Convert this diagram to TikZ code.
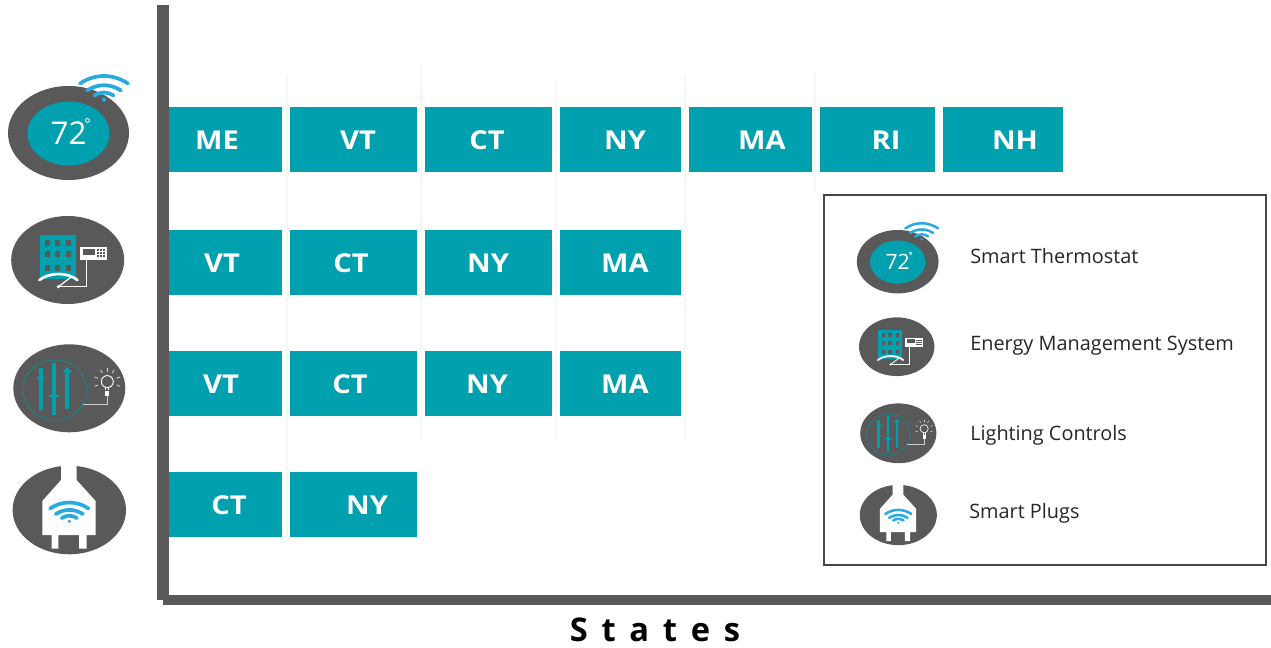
\documentclass[tikz,border=0pt]{standalone}
\usepackage{fontspec}
\setmainfont{Open Sans}
\newfontfamily\spacedbold[LetterSpace=42]{Open Sans}
\newfontfamily\labfont[FakeStretch=1.12]{Open Sans}
\definecolor{tealbar}{HTML}{00A0AF}
\definecolor{axisgray}{HTML}{595959}
\definecolor{wifiblue}{HTML}{29ABE2}
\definecolor{darkteal}{HTML}{1F7F8A}
\newcommand{\wifiicon}[1]{%
  \fill[wifiblue] (0,0) circle (2.1);
  \draw[wifiblue,line cap=round,line width=#1*2.8pt,fill=none]
    (-24,16) .. controls (-9,26) and (9,26) .. (24,16)
    (-17,9) .. controls (-6,16) and (6,16) .. (17,9)
    (-9.5,4) .. controls (-3,8) and (3,8) .. (9.5,4);
}
\tikzset{
  bar/.style={fill=tealbar},
  lab/.style={text=white,font=\fontsize{19.5}{22}\labfont\bfseries},
  legtext/.style={anchor=base west,inner sep=0pt,text=black!85,font=\fontsize{14.9}{17}\selectfont},
  grid/.style={draw=black!3,line width=0.8pt},
  pics/thermo/.style={code={
    \begin{scope}[x=.75pt,y=.75pt,scale=#1]
      \fill[axisgray] (0,0) ellipse (60.5 and 47);
      \fill[tealbar] (0,-.5) ellipse (41 and 32);
      \node[transform shape,text=white,font=\fontsize{23.5}{26}\selectfont] (t) at (0,-.5) {72};
      \draw[white,line width=#1*.6pt] (19,12.5) circle (2);
      \begin{scope}[shift={(35.5,33.5)}]\wifiicon{#1}\end{scope}
    \end{scope}}},
  pics/building/.style={code={
    \begin{scope}[x=.75pt,y=.75pt,scale=#1]
      \fill[axisgray] (0,0) ellipse (56.5 and 44);
      \fill[tealbar] (-27.7,25) rectangle (8.3,-19);
      \foreach \wx in {-22.7,-12.7,-1.7}
        \foreach \wy in {14,2.7,-10.7}
          \fill[axisgray] (\wx,\wy) rectangle +(5,6);
      \draw[white,line width=#1*2pt,line cap=round] (-28.3,-20) .. controls (-18,-12) and (0,-12) .. (9.7,-20);
      \draw[white,line width=#1*.9pt] (-9.3,-26.7) -- (4,-16.7);
      \draw[white,line width=#1*.7pt] (-9.3,-26.7) -- (18.3,-26.7) -- (18.3,0);
      \fill[white] (-9.3,-26.7) circle (1.8);
      \fill[white] (12.3,13.3) rectangle (39.7,0);
      \fill[axisgray] (15.7,11.5) rectangle (27.3,5);
      \foreach \bx in {29.5,32.5,35.5}
        \foreach \by in {3,6,9}
          \fill[axisgray] (\bx,\by) rectangle +(1.8,1.6);
    \end{scope}}},
  pics/lighting/.style={code={
    \begin{scope}[x=.75pt,y=.75pt,scale=#1]
      \fill[axisgray] (0,0) ellipse (56 and 44);
      \draw[darkteal,line width=#1*.8pt] (-14.3,-1.7) ellipse (32 and 30);
      \draw[tealbar,line width=#1*2.9pt]
        (-28.7,20) -- (-28.7,-22) (-15.3,25) -- (-15.3,-27) (-2,18) -- (-2,-21);
      \fill[tealbar] (-33,9) -- (-24.5,9) -- (-28.7,14) -- cycle;
      \fill[tealbar] (-20.5,-7) rectangle (-10,-9);
      \fill[tealbar] (-7,16) -- (3,16) -- (-2,21) -- cycle;
      \draw[white,line width=#1*.7pt] (38,6.7) circle (6);
      \draw[white,line width=#1*.6pt] (36.5,1.5) -- (36.5,-2) (39.5,1.5) -- (39.5,-2);
      \fill[white] (36,-3) rectangle (40,-8);
      \draw[white!80!black,line width=#1*.7pt] (38,-8) -- (38,-15.7) -- (13.3,-15.7);
      \foreach \ang in {-20,20,60,90,120,160,200}
        \draw[white!85!black,line width=#1*.6pt] (38,6.7) ++(\ang:10) -- ++(\ang:3.5);
    \end{scope}}},
  pics/plug/.style={code={
    \begin{scope}[x=.75pt,y=.75pt,scale=#1]
      \fill[axisgray] (0,0) ellipse (56.7 and 44.3);
      \fill[white] (-8.3,46.7) -- (7.3,46.7) -- (7.3,30) -- (26.3,9) -- (26.3,-25)
        -- (17.3,-25) -- (17.3,-38.5) -- (9.7,-38.5) -- (9.7,-25)
        -- (-11,-25) -- (-11,-38.5) -- (-17.7,-38.5) -- (-17.7,-25)
        -- (-27,-25) -- (-27,9) -- (-8.3,30) -- cycle;
      \begin{scope}[shift={(0,-11.3)},scale=.8]\wifiicon{#1}\end{scope}
    \end{scope}}},
}
\begin{document}
\begin{tikzpicture}[x=.75pt,y=-.75pt]
\useasboundingbox (0,0) rectangle (1271,647);
% faint guide lines
\draw[grid] (287,75) -- (287,537) (421,63) -- (421,440) (556,80) -- (556,440) (685,75) -- (685,440) (815,72) -- (815,192);
% axes
\fill[axisgray] (157,5) rectangle (168.5,600);
\fill[axisgray] (163,595) rectangle (1271,604.5);
% bars
\foreach \nm/\a/\b/\yy/\lx/\tx in {
  aa/168.5/282/107/217/ME, ab/290/417/107/358/VT, ac/425/552/107/487/CT, ad/560/681/107/625/NY,
  ae/689/812/107/762/MA, af/820/935/107/886/RI, ag/943/1063/107/1015/NH,
  ba/168.5/282/230/222/VT, bb/290/417/230/351/CT, bc/425/552/230/488/NY, bd/560/681/230/625/MA,
  ca/168.5/282/351/221/VT, cb/290/417/351/350/CT, cc/425/552/351/487/NY, cd/560/681/351/625/MA,
  da/168.5/282/472/229/CT, db/290/417/472/367/NY}{
  \fill[bar] (\a,\yy) rectangle (\b,\yy+65);
  \node[lab] (\nm) at (\lx,\yy+33) {\tx};
}
% row icons
\path (68.5,133) pic {thermo=1};
\path (67.7,260) pic {building=1};
\path (69.3,388.3) pic {lighting=1};
\path (69.3,510) pic {plug=1};
% legend
\node[draw=black!72,line width=1.5pt,fill=none,minimum width=331.5pt,minimum height=277.5pt,inner sep=0pt] (legend) at (1044.5,380) {};
\path (897.7,261.7) pic {thermo=.675};
\path (896.7,346.7) pic {building=.667};
\path (898.3,433.3) pic {lighting=.68};
\path (898.3,515) pic {plug=.68};
\node[legtext] (l1) at (970,263.5) {Smart Thermostat};
\node[legtext] (l2) at (970,350) {Energy Management System};
\node[legtext] (l3) at (970,440) {Lighting Controls};
\node[legtext] (l4) at (969,518.5) {Smart Plugs};
% axis title
\node[font=\fontsize{24.5}{28}\selectfont\spacedbold\bfseries,text=black,anchor=base] (title) at (655,641) {States};
\end{tikzpicture}
\end{document}
